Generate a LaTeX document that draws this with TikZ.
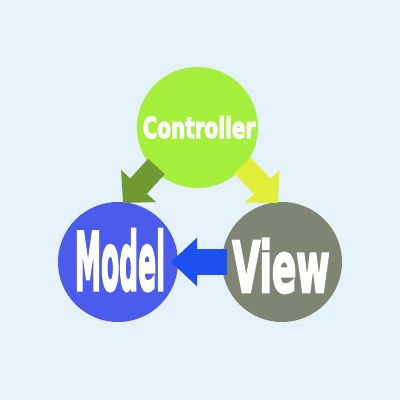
\documentclass[tikz,border=0pt]{standalone}
\usepackage{fontspec}
\setmainfont{DejaVu Sans}
\newfontfamily\heavyfont[FakeBold=4]{DejaVu Sans Bold}
\usetikzlibrary{arrows.meta}
\definecolor{bgc}{HTML}{E6F2F9}
\definecolor{ctrlc}{HTML}{A6EF3C}
\definecolor{modelc}{HTML}{4B5BEB}
\definecolor{viewc}{HTML}{7E8572}
\definecolor{olivec}{HTML}{6F9A32}
\definecolor{yellowc}{HTML}{E2EF3A}
\definecolor{bluec}{HTML}{1E50F0}
\begin{document}
\begin{tikzpicture}[x=1pt,y=-1pt,
  ball/.style={circle,inner sep=0pt,minimum size=#1},
  lbl/.style={anchor=base,inner sep=0pt,text=white},
  diagarrow/.style={line width=22.7pt,-{Triangle[length=23pt,width=46pt]}},
  horizarrow/.style={line width=26pt,-{Triangle[length=26pt,width=47pt]}}]
\fill[bgc] (0,0) rectangle (400,400);
\useasboundingbox (0,0) rectangle (400,400);
\node[ball=121pt,fill=ctrlc] (ctrl) at (197.5,127.5) {};
\node[ball=120pt,fill=modelc] (model) at (118,262) {};
\node[ball=120pt,fill=viewc] (view) at (282,262) {};
\coordinate (cmA) at (156.5,166.5);
\coordinate (cmB) at (123,203);
\coordinate (cvA) at (242.5,165.5);
\coordinate (cvB) at (278,203);
\coordinate (vmA) at (227,262);
\coordinate (vmB) at (171,262);
\draw[diagarrow,olivec] (cmA) -- (cmB);
\draw[diagarrow,yellowc] (cvA) -- (cvB);
\draw[horizarrow,bluec] (vmA) -- (vmB);
\node[lbl] (ctrltext) at (199,138) {\heavyfont\fontsize{24}{24}\selectfont\scalebox{0.83}[1.2]{Controller}};
\node[lbl] (modeltext) at (120,290) {\heavyfont\fontsize{40}{40}\selectfont\scalebox{0.66}[2.0]{Model}};
\node[lbl] (viewtext) at (281,292) {\heavyfont\fontsize{40}{40}\selectfont\scalebox{0.9}[1.75]{View}};
\end{tikzpicture}
\end{document}
